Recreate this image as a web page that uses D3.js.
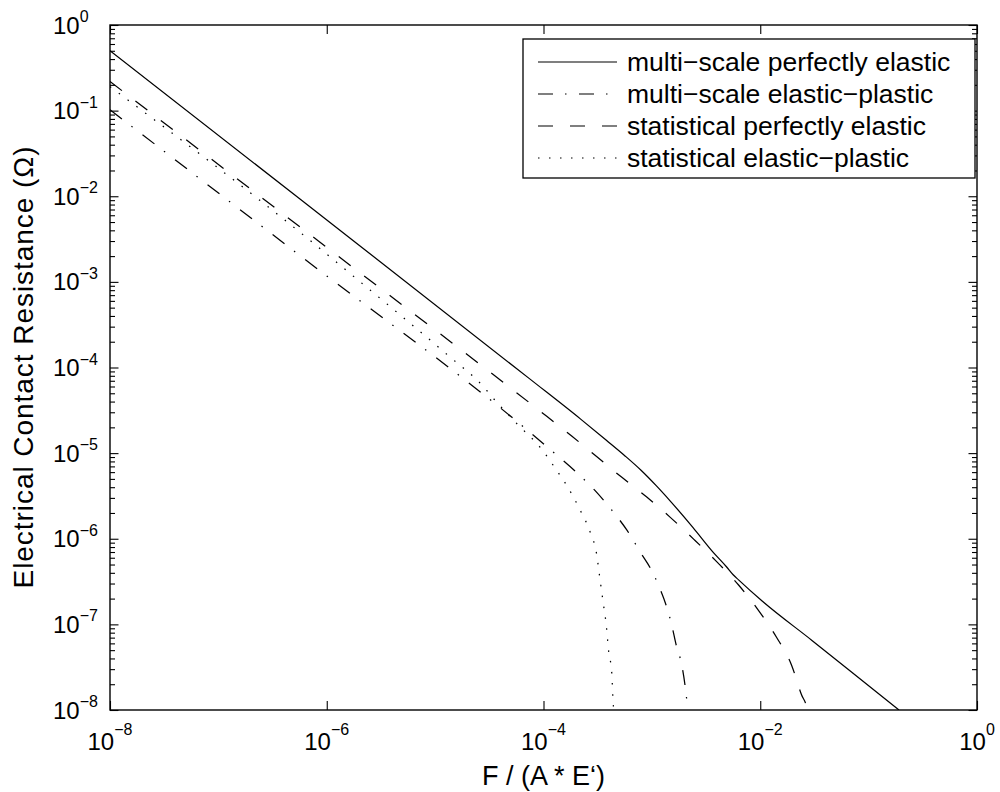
<!DOCTYPE html>
<html>
<head>
<meta charset="utf-8">
<script src="https://cdn.jsdelivr.net/npm/d3@7"></script>
<style>
body { margin: 0; background: #fff; }
text { font-family: "Liberation Sans", Arial, sans-serif; fill: #000; }
</style>
</head>
<body>
<div id="chart"></div>
<script>
// tick exponents
var xTickExps = [-8, -6, -4, -2, 0];
var yTickExps = [0, -1, -2, -3, -4, -5, -6, -7, -8];

var seriesNames = ["multi\u2212scale perfectly elastic", "multi\u2212scale elastic\u2212plastic",
                   "statistical perfectly elastic", "statistical elastic\u2212plastic"];

// values, as log10(F/(A*E')) and log10(R)
var solidLogF = [-8, -6.25, -4.13, -3.66, -3.42, -3.25, -3.10, -2.96, -2.83, -2.62, -2.44, -2.31, -2.25, -2.20, -1.98, -1.52, -0.74, -0.72];
var solidLogR = [-0.30, -2.03, -4.13, -4.60, -4.85, -5.03, -5.20, -5.38, -5.56, -5.87, -6.15, -6.33, -6.42, -6.48, -6.73, -7.19, -7.98, -8.0];

var dashDotLogF = [-8, -6.23, -4.16, -3.89, -3.70, -3.53, -3.38, -3.23, -3.10, -2.99, -2.93, -2.86, -2.82, -2.77, -2.73, -2.68, -2.665];
var dashDotLogR = [-0.99, -2.71, -4.72, -5.01, -5.22, -5.43, -5.65, -5.90, -6.17, -6.40, -6.57, -6.81, -6.99, -7.27, -7.44, -7.86, -8.05];

var dashedLogF = [-8, -6.08, -3.97, -3.74, -3.51, -3.28, -3.05, -2.83, -2.61, -2.40, -2.20, -2.02, -1.85, -1.71, -1.62, -1.57, -1.56];
var dashedLogR = [-0.66, -2.52, -4.57, -4.80, -5.04, -5.28, -5.51, -5.75, -6.01, -6.27, -6.54, -6.83, -7.15, -7.48, -7.82, -7.98, -8.05];

var dottedLogF = [-8, -6.16, -5.72, -5.30, -4.87, -4.55, -4.47, -4.25, -4.02, -3.89, -3.77, -3.66, -3.57, -3.51, -3.48, -3.45, -3.42, -3.40, -3.37, -3.36, -3.35];
var dottedLogR = [-0.72, -2.51, -2.97, -3.41, -3.87, -4.23, -4.35, -4.65, -4.95, -5.18, -5.41, -5.67, -5.92, -6.18, -6.46, -6.74, -7.02, -7.30, -7.57, -7.85, -8.05];

var dashStyles = ["none", "15,12,1.5,12.5", "15,17", "1.5,9.5"];

function toPoints(lf, lr) {
  return lf.map(function(d, i) { return [Math.pow(10, d), Math.pow(10, lr[i])]; });
}
var series = [toPoints(solidLogF, solidLogR), toPoints(dashDotLogF, dashDotLogR),
              toPoints(dashedLogF, dashedLogR), toPoints(dottedLogF, dottedLogR)];

var W = 1000, H = 792;
var plotL = 110, plotR = 977, plotT = 25, plotB = 710;

var svg = d3.select("#chart").append("svg").attr("width", W).attr("height", H);

var x = d3.scaleLog().domain([1e-8, 1]).range([plotL, plotR]);
var y = d3.scaleLog().domain([1e-8, 1]).range([plotB, plotT]);

svg.append("clipPath").attr("id", "clip").append("rect")
   .attr("x", plotL).attr("y", plotT).attr("width", plotR - plotL).attr("height", plotB - plotT);

// curves
var line = d3.line().x(function(d){return x(d[0])}).y(function(d){return y(d[1])}).curve(d3.curveMonotoneX);
svg.append("g").attr("clip-path", "url(#clip)").selectAll("path")
   .data(series).enter().append("path")
   .attr("d", line)
   .attr("fill", "none").attr("stroke", "#000").attr("stroke-width", 1.25)
   .attr("stroke-dasharray", function(d,i){return dashStyles[i]});

// ticks
var xMajor = xTickExps.map(function(e){return Math.pow(10, e)});
var yMajor = yTickExps.map(function(e){return Math.pow(10, e)});
var yMinor = y.ticks().filter(function(v){ var l = Math.log10(v); return Math.abs(l - Math.round(l)) > 1e-6; });

function noLabels(a) { return a.tickFormat("").tickSizeOuter(0); }
svg.append("g").attr("transform", "translate(0," + plotB + ")").call(noLabels(d3.axisBottom(x).tickValues(xMajor).tickSizeInner(-9)));
svg.append("g").attr("transform", "translate(0," + plotT + ")").call(noLabels(d3.axisTop(x).tickValues(xMajor).tickSizeInner(-9)));
svg.append("g").attr("transform", "translate(" + plotL + ",0)").call(noLabels(d3.axisLeft(y).tickValues(yMajor).tickSizeInner(-8.5)));
svg.append("g").attr("transform", "translate(" + plotR + ",0)").call(noLabels(d3.axisRight(y).tickValues(yMajor).tickSizeInner(-8.5)));
svg.append("g").attr("transform", "translate(" + plotL + ",0)").call(noLabels(d3.axisLeft(y).tickValues(yMinor).tickSizeInner(-5)));
svg.append("g").attr("transform", "translate(" + plotR + ",0)").call(noLabels(d3.axisRight(y).tickValues(yMinor).tickSizeInner(-5)));
svg.selectAll(".domain").remove();
svg.selectAll(".tick line").attr("stroke", "#000").attr("stroke-width", 1.1);

// frame
svg.append("rect").attr("x", plotL).attr("y", plotT).attr("width", plotR - plotL).attr("height", plotB - plotT)
   .attr("fill", "none").attr("stroke", "#000").attr("stroke-width", 1.4);

// tick labels
var xl = svg.append("g").selectAll("text").data(xTickExps).enter().append("text")
   .attr("x", function(d){return x(Math.pow(10, d))}).attr("y", 750).attr("text-anchor", "middle");
xl.append("tspan").style("font-size", "24px").text("10");
xl.append("tspan").style("font-size", "16px").attr("dy", -15).text(function(d){return String(d).replace("-", "\u2212")});

var yl = svg.append("g").selectAll("text").data(yTickExps).enter().append("text")
   .attr("x", 53).attr("y", function(d){return y(Math.pow(10, d)) + 8.5});
yl.append("tspan").style("font-size", "24px").text("10");
yl.append("tspan").style("font-size", "16px").attr("dy", -11.5).text(function(d){return String(d).replace("-", "\u2212")});

// axis labels
svg.append("text").attr("x", (plotL + plotR) / 2).attr("y", 785).attr("text-anchor", "middle")
   .style("font-size", "27px").text("F / (A * E\u2018)");
svg.append("text").attr("transform", "translate(33," + (plotT + plotB) / 2 + ") rotate(-90)").attr("text-anchor", "middle")
   .style("font-size", "28px").attr("textLength", 442).attr("lengthAdjust", "spacing")
   .text("Electrical Contact Resistance (\u03A9)");

// legend
var legend = svg.append("g");
legend.append("rect").attr("x", 523).attr("y", 39).attr("width", 452).attr("height", 139)
   .attr("fill", "#fff").attr("stroke", "#000").attr("stroke-width", 1.3);
var rows = legend.selectAll("g").data(seriesNames).enter().append("g")
   .attr("transform", function(d,i){return "translate(0," + (62 + i * 32) + ")"});
rows.append("line").attr("x1", 538).attr("x2", 617).attr("y1", 0).attr("y2", 0)
   .attr("stroke", "#000").attr("stroke-width", 1.2)
   .attr("stroke-dasharray", function(d,i){return dashStyles[i]});
rows.append("text").attr("x", 627).attr("y", 9).style("font-size", "26.5px").text(function(d){return d});
</script>
</body>
</html>
